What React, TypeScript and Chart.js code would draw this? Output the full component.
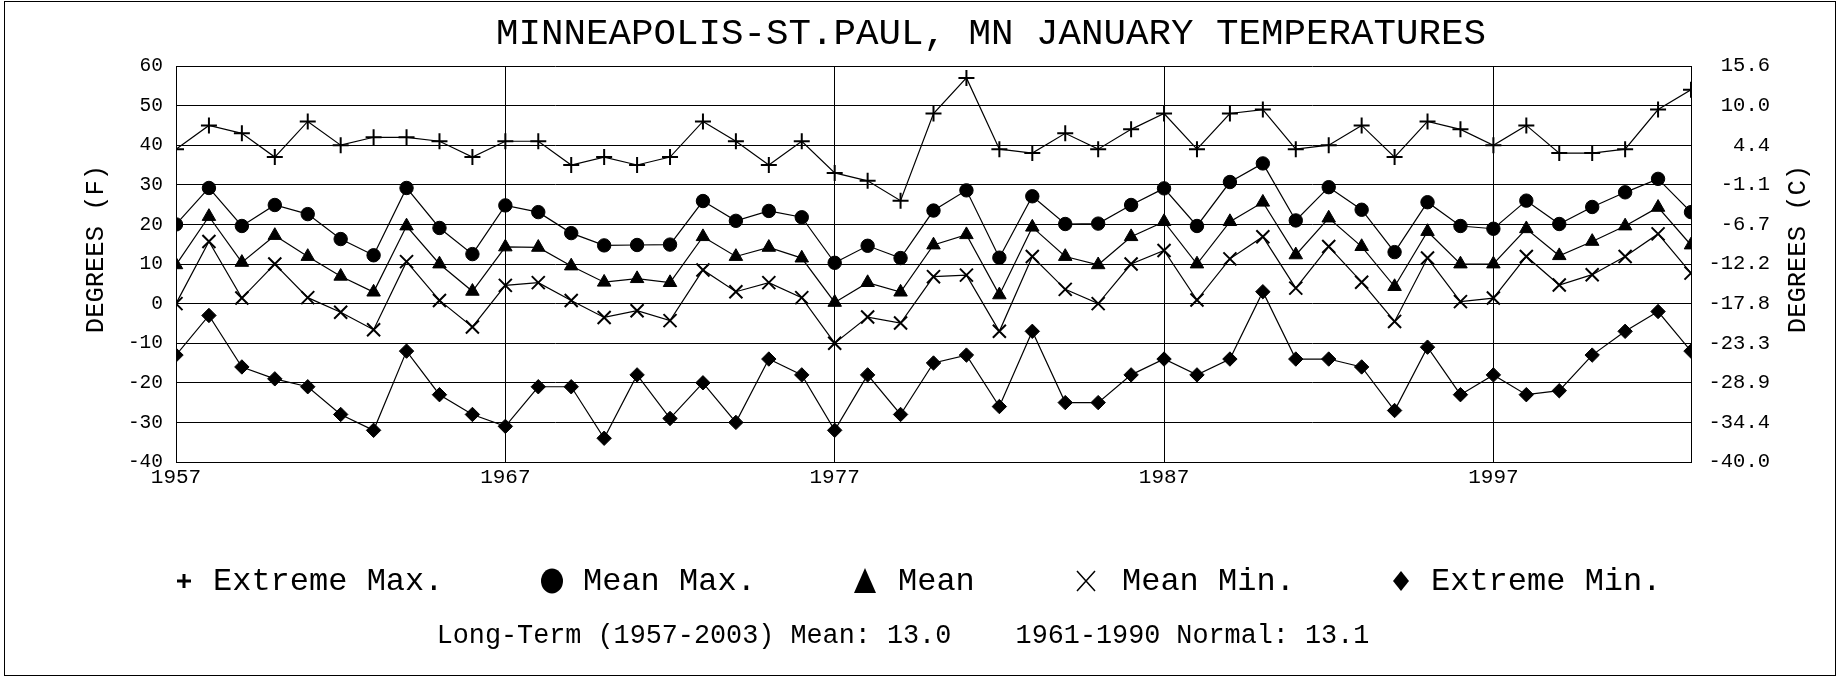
import React, { useEffect, useRef } from 'react';
import { Chart, registerables } from 'chart.js';

Chart.register(...registerables);

const years = [
  1957, 1958, 1959, 1960, 1961, 1962, 1963, 1964, 1965, 1966,
  1967, 1968, 1969, 1970, 1971, 1972, 1973, 1974, 1975, 1976,
  1977, 1978, 1979, 1980, 1981, 1982, 1983, 1984, 1985, 1986,
  1987, 1988, 1989, 1990, 1991, 1992, 1993, 1994, 1995, 1996,
  1997, 1998, 1999, 2000, 2001, 2002, 2003,
];

const extremeMax = [
  39, 45, 43, 37, 46, 40, 42, 42, 41, 37,
  41, 41, 35, 37, 35, 37, 46, 41, 35, 41,
  33, 31, 26, 48, 57, 39, 38, 43, 39, 44,
  48, 39, 48, 49, 39, 40, 45, 37, 46, 44,
  40, 45, 38, 38, 39, 49, 54,
];

const meanMax = [
  20.0, 29.2, 19.6, 24.9, 22.6, 16.3, 12.2, 29.2, 19.1, 12.5,
  24.8, 23.1, 17.8, 14.7, 14.8, 14.9, 25.9, 20.9, 23.4, 21.8,
  10.3, 14.6, 11.5, 23.5, 28.6, 11.6, 27.1, 20.1, 20.2, 24.9,
  29.1, 19.6, 30.7, 35.4, 21.0, 29.4, 23.7, 13.0, 25.6, 19.6,
  18.9, 26.0, 20.1, 24.4, 28.1, 31.5, 23.1,
];

const meanTemp = [
  9.8, 22.0, 10.4, 17.2, 11.9, 6.9, 2.9, 19.6, 10.0, 3.1,
  14.3, 14.2, 9.5, 5.4, 6.3, 5.3, 16.9, 11.9, 14.2, 11.5,
  0.3, 5.3, 2.9, 14.8, 17.4, 2.2, 19.3, 11.9, 9.8, 16.9,
  20.7, 10.0, 20.7, 25.6, 12.3, 21.6, 14.4, 4.3, 18.2, 10.0,
  10.0, 18.9, 12.1, 15.7, 19.6, 24.3, 14.8,
];

const meanMin = [
  0.0, 15.7, 1.4, 10.0, 1.5, -2.2, -6.6, 10.6, 0.8, -5.9,
  4.6, 5.3, 0.8, -3.5, -1.8, -4.3, 8.5, 3.0, 5.3, 1.5,
  -10.0, -3.4, -4.9, 6.8, 7.2, -7.0, 11.9, 3.6, 0.0, 10.0,
  13.4, 0.9, 11.3, 16.9, 3.9, 14.4, 5.4, -4.5, 11.5, 0.5,
  1.4, 11.9, 4.7, 7.3, 11.9, 17.6, 7.7,
];

const extremeMin = [
  -13, -3, -16, -19, -21, -28, -32, -12, -23, -28,
  -31, -21, -21, -34, -18, -29, -20, -30, -14, -18,
  -32, -18, -28, -15, -13, -26, -7, -25, -25, -18,
  -14, -18, -14, 3, -14, -14, -16, -27, -11, -23,
  -18, -23, -22, -13, -7, -2, -12,
];

const fTicks = [-40, -30, -20, -10, 0, 10, 20, 30, 40, 50, 60];
const cTickLabels = ['-40.0', '-34.4', '-28.9', '-23.3', '-17.8', '-12.2', '-6.7', '-1.1', '4.4', '10.0', '15.6'];
const yearTicks = [1957, 1967, 1977, 1987, 1997];
const seriesNames = ['Extreme Max.', 'Mean Max.', 'Mean', 'Mean Min.', 'Extreme Min.'];
const titleText = 'MINNEAPOLIS-ST.PAUL, MN JANUARY TEMPERATURES';
const leftAxisTitle = 'DEGREES (F)';
const rightAxisTitle = 'DEGREES (C)';
const footerText = 'Long-Term (1957-2003) Mean: 13.0    1961-1990 Normal: 13.1';

const MONO = '"Liberation Mono", "DejaVu Sans Mono", monospace';
const W = 1843;
const H = 677;

const fToC = (f: number) => ((f - 32) * 5) / 9;

const decorPlugin = {
  id: 'decor',
  afterDraw(chart: any) {
    const ctx: CanvasRenderingContext2D = chart.ctx;
    ctx.save();
    ctx.fillStyle = '#000';
    ctx.strokeStyle = '#000';

    // outer frame
    ctx.lineWidth = 1;
    ctx.strokeRect(4.5, 1.5, 1831, 674);

    // title
    ctx.font = `37.5px ${MONO}`;
    ctx.textAlign = 'center';
    ctx.textBaseline = 'middle';
    ctx.fillText(titleText, 991, 34);

    // axis titles (both read bottom-to-top)
    ctx.font = `25.5px ${MONO}`;
    ctx.save();
    ctx.translate(96, 249);
    ctx.rotate(-Math.PI / 2);
    ctx.fillText(leftAxisTitle, 0, 0);
    ctx.restore();
    ctx.save();
    ctx.translate(1798, 249);
    ctx.rotate(-Math.PI / 2);
    ctx.fillText(rightAxisTitle, 0, 0);
    ctx.restore();

    // legend
    const ly = 581;
    const markerX = [184, 552, 865, 1086, 1401];
    const textX = [213, 583, 898, 1122, 1431];
    // plus
    ctx.lineWidth = 3;
    ctx.beginPath();
    ctx.moveTo(markerX[0] - 7, ly);
    ctx.lineTo(markerX[0] + 7, ly);
    ctx.moveTo(markerX[0], ly - 7);
    ctx.lineTo(markerX[0], ly + 7);
    ctx.stroke();
    // circle
    ctx.beginPath();
    ctx.ellipse(markerX[1], ly, 11, 12.5, 0, 0, Math.PI * 2);
    ctx.fill();
    // triangle
    ctx.beginPath();
    ctx.moveTo(markerX[2], ly - 13);
    ctx.lineTo(markerX[2] + 11, ly + 12);
    ctx.lineTo(markerX[2] - 11, ly + 12);
    ctx.closePath();
    ctx.fill();
    // X
    ctx.lineWidth = 1.5;
    ctx.beginPath();
    ctx.moveTo(markerX[3] - 9, ly - 10);
    ctx.lineTo(markerX[3] + 9, ly + 10);
    ctx.moveTo(markerX[3] + 9, ly - 10);
    ctx.lineTo(markerX[3] - 9, ly + 10);
    ctx.stroke();
    // diamond
    ctx.beginPath();
    ctx.moveTo(markerX[4], ly - 10);
    ctx.lineTo(markerX[4] + 8, ly);
    ctx.lineTo(markerX[4], ly + 10);
    ctx.lineTo(markerX[4] - 8, ly);
    ctx.closePath();
    ctx.fill();

    ctx.font = `32px ${MONO}`;
    ctx.textAlign = 'left';
    ctx.textBaseline = 'middle';
    seriesNames.forEach((name, i) => {
      ctx.fillText(name, textX[i], ly + 1);
    });

    // footer
    ctx.font = `26.8px ${MONO}`;
    ctx.textAlign = 'center';
    ctx.fillText(footerText, 903, 636);

    ctx.restore();
  },
};

function makeDataset(label: string, values: number[], pointStyle: string, radius: number, bw: number) {
  return {
    label,
    data: years.map((yr, i) => ({ x: yr, y: values[i] })),
    pointStyle,
    pointRadius: radius,
    pointHoverRadius: radius,
    pointBorderWidth: bw,
    pointBackgroundColor: '#000',
    pointBorderColor: '#000',
    borderColor: '#000',
    backgroundColor: '#000',
    borderWidth: 1.2,
    tension: 0,
    fill: false,
    xAxisID: 'x',
    yAxisID: 'y',
  };
}

export default function App() {
  const canvasRef = useRef<HTMLCanvasElement | null>(null);

  useEffect(() => {
    const canvas = canvasRef.current;
    if (!canvas) return;
    const chart = new Chart(canvas, {
      type: 'line',
      data: {
        datasets: [
          makeDataset(seriesNames[0], extremeMax, 'cross', 8, 2),
          makeDataset(seriesNames[1], meanMax, 'circle', 6.7, 1),
          makeDataset(seriesNames[2], meanTemp, 'triangle', 7.8, 1),
          makeDataset(seriesNames[3], meanMin, 'crossRot', 9.2, 2),
          makeDataset(seriesNames[4], extremeMin, 'rectRot', 7.2, 1),
        ] as any,
      },
      options: {
        responsive: false,
        animation: false,
        devicePixelRatio: 1,
        events: [],
        layout: { padding: { top: 66, right: 73, bottom: 175, left: 0 } },
        plugins: {
          legend: { display: false },
          tooltip: { enabled: false },
          title: { display: false },
        },
        scales: {
          x: {
            type: 'linear',
            position: 'bottom',
            min: years[0],
            max: years[years.length - 1],
            afterBuildTicks: (axis: any) => {
              axis.ticks = yearTicks.map((v) => ({ value: v }));
            },
            afterFit: (s: any) => {
              s.height = 40;
            },
            ticks: {
              autoSkip: false,
              maxRotation: 0,
              minRotation: 0,
              padding: 3,
              color: '#000',
              font: { family: MONO, size: 21 },
              callback: (v: any) => String(v),
            },
            grid: { color: '#000', lineWidth: 1, drawTicks: false },
            border: { display: true, color: '#000', width: 1 },
          },
          y: {
            type: 'linear',
            position: 'left',
            min: -40,
            max: 60,
            afterBuildTicks: (axis: any) => {
              axis.ticks = fTicks.map((v) => ({ value: v }));
            },
            afterFit: (s: any) => {
              s.width = 176;
            },
            ticks: {
              padding: 13,
              color: '#000',
              font: { family: MONO, size: 19.5 },
              callback: (v: any) => String(v),
            },
            grid: { color: '#000', lineWidth: 1, drawTicks: false },
            border: { display: true, color: '#000', width: 1 },
          },
          y2: {
            type: 'linear',
            position: 'right',
            min: fToC(-40),
            max: fToC(60),
            afterBuildTicks: (axis: any) => {
              axis.ticks = fTicks.map((f) => ({ value: fToC(f) }));
            },
            afterFit: (s: any) => {
              s.width = 79;
            },
            ticks: {
              crossAlign: 'far',
              padding: 17,
              color: '#000',
              font: { family: MONO, size: 20.5 },
              callback: (_v: any, i: number) => cTickLabels[i],
            },
            grid: { display: false, drawTicks: false },
            border: { display: true, color: '#000', width: 1 },
          },
        } as any,
      },
      plugins: [decorPlugin],
    });
    return () => {
      chart.destroy();
    };
  }, []);

  return (
    <div style={{ position: 'fixed', left: 0, top: 0, width: W, height: H, background: '#fff' }}>
      <canvas ref={canvasRef} width={W} height={H} style={{ display: 'block', width: W, height: H }} />
    </div>
  );
}
